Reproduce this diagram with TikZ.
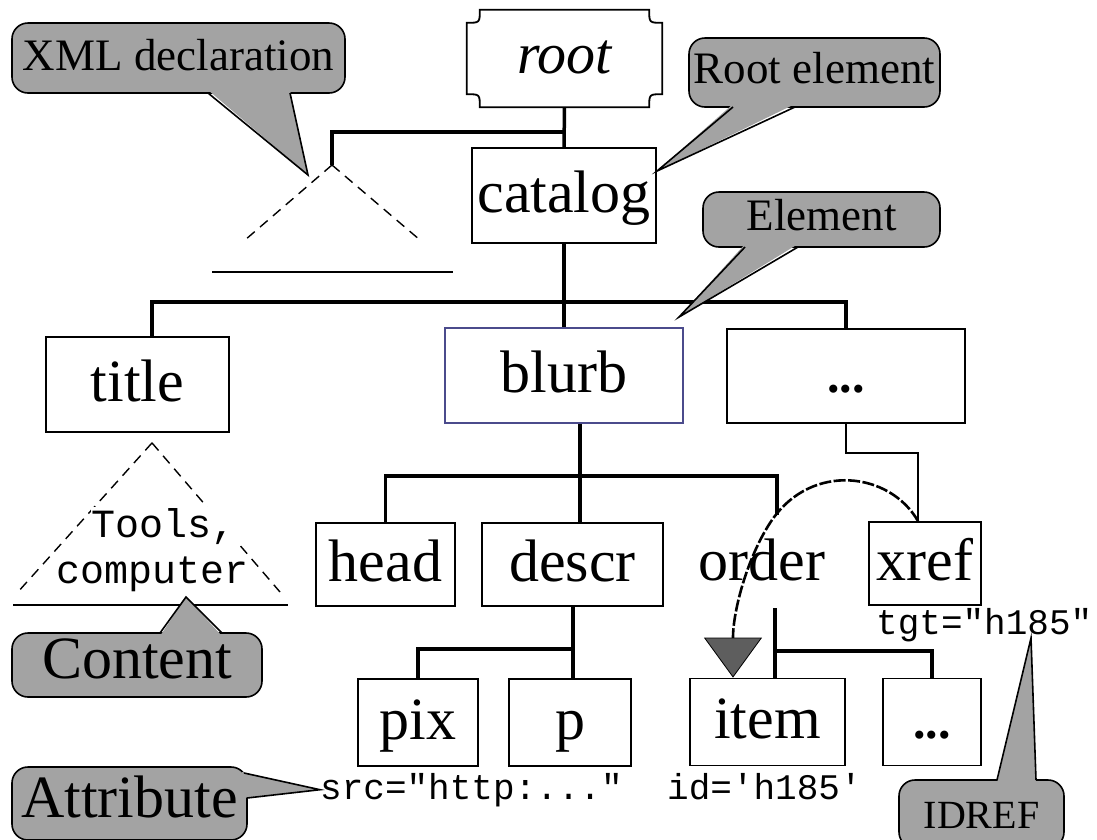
\documentclass[tikz,border=0pt]{standalone}
\usepackage{fontspec}
\setmainfont{Liberation Serif}
\setmonofont{Liberation Mono}
\usetikzlibrary{calc,arrows.meta}
\definecolor{cgray}{HTML}{A3A3A3}
\definecolor{agray}{HTML}{5E5E5E}
\definecolor{bblue}{HTML}{4B4B8C}
\begin{document}
\begin{tikzpicture}[x=1pt,y=-1pt,
  elem/.style={draw,line width=1.8pt,inner sep=0pt,font=\fontsize{60}{60}\selectfont,text height=44pt,text depth=11pt},
  tree/.style={line width=3.5pt},
  thinline/.style={line width=1.8pt},
  callout/.style={draw,line width=1.6pt,fill=cgray,rounded corners=16pt,inner sep=0pt,font=\fontsize{45}{45}\selectfont,text height=33pt,text depth=9pt},
  tailedge/.style={line width=1.6pt},
  mono/.style={font=\ttfamily\fontsize{36}{36}\selectfont,inner sep=0pt,anchor=base},
  bigmono/.style={font=\ttfamily\fontsize{40}{40}\selectfont,inner sep=1pt,anchor=base,fill=white},
  dashedge/.style={line width=1.4pt,dash pattern=on 10pt off 7pt},
  arcline/.style={line width=2.6pt,dash pattern=on 12pt off 2.5pt},
]
\useasboundingbox (0,0) rectangle (1097,839);

% ---------- element nodes ----------
\node[inner sep=0pt,minimum width=195pt,minimum height=97pt,font=\fontsize{58}{58}\selectfont\itshape,text height=42pt,text depth=12pt] (root) at (564.5,58.5) {root};
\draw[line width=1.8pt]
  ($(root.north west)+(13,0)$) -- ($(root.north east)+(-13,0)$)
  .. controls ($(root.north east)+(-13,13)$) .. ($(root.north east)+(0,13)$)
  -- ($(root.south east)+(0,-13)$)
  .. controls ($(root.south east)+(-13,-13)$) .. ($(root.south east)+(-13,0)$)
  -- ($(root.south west)+(13,0)$)
  .. controls ($(root.south west)+(13,-13)$) .. ($(root.south west)+(0,-13)$)
  -- ($(root.north west)+(0,13)$)
  .. controls ($(root.north west)+(13,13)$) .. ($(root.north west)+(13,0)$) -- cycle;

\node[elem,minimum width=184pt,minimum height=95pt] (catalog) at (564,195.5) {catalog};
\node[elem,minimum width=183pt,minimum height=95pt] (title) at (137.5,384.5) {title};
\node[elem,draw=bblue,minimum width=238pt,minimum height=95pt] (blurb) at (564,375.5) {blurb};
\node[elem,minimum width=238pt,minimum height=94pt,font=\fontsize{50}{50}\selectfont\bfseries] (dots1) at (846,376) {...};
\node[elem,minimum width=139pt,minimum height=83pt] (head) at (385.5,564.5) {head};
\node[elem,minimum width=181pt,minimum height=83pt] (descr) at (572.5,564.5) {descr};
\node[elem,draw=none,minimum width=140pt,minimum height=83pt] (order) at (762,563.5) {order};
\node[elem,minimum width=112pt,minimum height=83pt] (xref) at (925,563.5) {xref};
\node[elem,minimum width=120pt,minimum height=87pt] (pix) at (418,722.5) {pix};
\node[elem,minimum width=122pt,minimum height=87pt] (p) at (570,722.5) {p};
\node[elem,minimum width=155pt,minimum height=87pt] (item) at (767.5,722) {item};
\node[elem,minimum width=98pt,minimum height=87pt,font=\fontsize{50}{50}\selectfont\bfseries] (dots2) at (932,722) {...};

% ---------- tree connectors ----------
\coordinate (rj) at (565,132);
\coordinate (xmlapex) at (332,165);
\draw[tree] (root.south) -- (catalog.north);
\draw[tree] (xmlapex) |- (rj);
\coordinate (bar1) at (564,302);
\draw[tree] (catalog.south) -- (blurb.north);
\draw[tree] ($(title.north)+(14.5,0)$) |- (bar1) -| (dots1.north);
\coordinate (bar2) at (580,476);
\coordinate (ordertop) at (777,515);
\draw[tree] (blurb.south -| bar2) -- (bar2);
\draw[tree] (head.north) |- (bar2) -| (ordertop);
\draw[tree] (bar2) -- (descr.north -| bar2);
\coordinate (bar3) at (573,649);
\draw[tree] (descr.south -| bar3) -- (p.north -| bar3);
\draw[tree] (pix.north) |- (bar3);
\coordinate (orderbot) at (775,608);
\coordinate (bar4) at (775,651);
\draw[tree] (orderbot) -- (item.north -| orderbot);
\draw[tree] (bar4) -| (dots2.north);

% thin link ... -> xref
\coordinate (xj) at (918,453);
\draw[thinline] (dots1.south) |- (xj) -- (xref.north -| xj);

% IDREF arc
\draw[arcline,-{Triangle[length=40pt,width=58pt,fill=agray,line width=0.8pt]}]
  (xref.north -| xj) .. controls (890,472) and (812,462) .. (772,520)
  .. controls (748,555) and (733,610) .. (item.north -| 733,0);

% ---------- XML declaration triangle ----------
\draw[dashedge] (xmlapex) -- (245,240);
\draw[dashedge] (xmlapex) -- (420,240);
\draw[line width=1.8pt] (212,272) -- (453,272);

% ---------- content triangle ----------
\coordinate (tcapex) at ($(title.south)+(14.5,10)$);
\draw[dashedge] (tcapex) -- (17,593);
\draw[dashedge] (tcapex) -- (280,592);
\draw[line width=1.8pt] (13,605) -- (288,605);
\node[bigmono] (tools) at (164,537) {Tools,};
\node[bigmono] (computer) at (152.5,583) {computer};

% ---------- attribute texts ----------
\node[mono,anchor=base west] (src) at (320,799) {src="http:..."};
\node[mono,anchor=base west] (idt) at (667,799) {id='h185'};
\node[mono,anchor=base west] (tgt) at (876,634) {tgt="h185"};

% ---------- callouts ----------
\node[callout,minimum width=333pt,minimum height=70pt] (xmlc) at (178.5,58) {XML declaration};
\fill[cgray] (208,90) -- (308,175) -- (290,90) -- cycle;
\draw[tailedge] (208,93) -- (308,175) -- (290,93);

\node[callout,minimum width=251pt,minimum height=69pt,text height=31pt,text depth=10pt] (rootc) at (814.5,72.5) {Root element};
\fill[cgray] (733,104) -- ($(catalog.north east)+(0,24)$) -- (795,104) -- cycle;
\draw[tailedge] (733,107) -- ($(catalog.north east)+(0,24)$) -- (795,107);

\node[callout,minimum width=237pt,minimum height=55pt,text height=31pt,text depth=10pt] (elemc) at (821.5,219.5) {Element};
\fill[cgray] (745,244) -- ($(blurb.north east)+(-5,-10)$) -- (798,244) -- cycle;
\draw[tailedge] (745,247) -- ($(blurb.north east)+(-5,-10)$) -- (798,247);

\node[callout,minimum width=250pt,minimum height=64pt,font=\fontsize{60}{60}\selectfont,text height=40pt,text depth=14pt] (contc) at (137,665) {Content};
\fill[cgray] (160,636) -- (186,597) -- (222,636) -- cycle;
\draw[tailedge] (160,633) -- (186,597) -- (222,633);

\node[callout,minimum width=235pt,minimum height=73pt,font=\fontsize{60}{60}\selectfont,text height=42pt,text depth=14pt] (attrc) at (129.5,803.5) {Attribute};
\fill[cgray] (242,772) -- (src.west) -- (242,798) -- cycle;
\draw[tailedge] (244,773) -- (src.west) -- (247,798);

\node[callout,minimum width=165pt,minimum height=68pt,font=\fontsize{40}{40}\selectfont,text height=36pt,text depth=7pt] (idrefc) at (981.5,814) {IDREF};
\fill[cgray] (997,783) -- (1031,638) -- (1036,783) -- cycle;
\draw[tailedge] (997,780) -- (1031,638) -- (1036,780);
\end{tikzpicture}
\end{document}
